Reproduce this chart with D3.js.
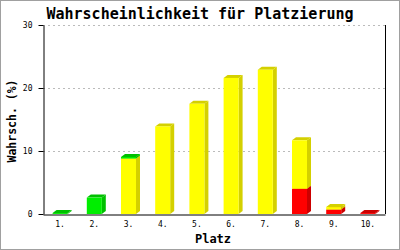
<!DOCTYPE html>
<html>
<head>
<meta charset="utf-8">
<script src="https://cdn.jsdelivr.net/npm/d3@7"></script>
<style>
  body { margin: 0; background: #fff; }
  text { font-family: "DejaVu Sans Mono", monospace; }
</style>
</head>
<body>
<div id="chart"></div>
<script>
// chart data
const PLACES = ["1.", "2.", "3.", "4.", "5.", "6.", "7.", "8.", "9.", "10."];
const RED = [0, 0, 0, 0, 0, 0, 0, 4.0, 0.7, 0.15];
const YELLOW = [0, 0, 8.8, 13.9, 17.5, 21.6, 22.9, 7.7, 0.4, 0];
const GREEN = [0.15, 2.6, 0.25, 0, 0, 0, 0, 0, 0, 0];
const Y_TICKS = [0, 10, 20, 30];

const WIDTH = 400;
const HEIGHT = 250;
const MARGINS = {left: 43, right: 15, top: 25, bottom: 36};

const svg = d3.select("#chart")
  .append("svg")
    .attr("width", WIDTH)
    .attr("height", HEIGHT);

// outer frame
svg.append("rect")
    .attr("x", 0.5).attr("y", 0.5)
    .attr("width", WIDTH - 1).attr("height", HEIGHT - 1)
    .attr("fill", "#fff")
    .attr("stroke", "#a0a0a0");

const x = d3.scaleBand()
  .domain(PLACES)
  .range([MARGINS.left, WIDTH - MARGINS.right]);

const y = d3.scaleLinear()
  .domain([0, 30])
  .range([HEIGHT - MARGINS.bottom, MARGINS.top]);

// grid lines
svg.append("g")
  .selectAll("line")
  .data(Y_TICKS.slice(1))
  .enter()
  .append("line")
    .attr("x1", MARGINS.left)
    .attr("x2", WIDTH - MARGINS.right)
    .attr("y1", (d) => y(d) + 0.5)
    .attr("y2", (d) => y(d) + 0.5)
    .attr("stroke", "#bbb")
    .attr("stroke-dasharray", "2,3");

// stacked series, bottom to top
const series = [
  {values: RED, front: "#ff0000", side: "#cc0000"},
  {values: YELLOW, front: "#ffff00", side: "#d4d000"},
  {values: GREEN, front: "#00ee00", side: "#00c000"}
];

const barW = 15;
const dx = 4;
const dy = 3;

const bars = svg.append("g");
PLACES.forEach((p, i) => {
  let base = 0;
  series.forEach((s) => {
    const v = s.values[i];
    if (v <= 0) return;
    const x0 = x(p) + (x.bandwidth() - barW) / 2;
    const yTop = y(base + v);
    const yBot = y(base);
    const g = bars.append("g");
    // side face
    g.append("polygon")
        .attr("points", [
          [x0 + barW, yBot], [x0 + barW + dx, yBot - dy],
          [x0 + barW + dx, yTop - dy], [x0 + barW, yTop]
        ].join(" "))
        .attr("fill", s.side);
    // top face
    g.append("polygon")
        .attr("points", [
          [x0, yTop], [x0 + dx, yTop - dy],
          [x0 + barW + dx, yTop - dy], [x0 + barW, yTop]
        ].join(" "))
        .attr("fill", s.side);
    // front face
    g.append("rect")
        .attr("x", x0)
        .attr("y", yTop)
        .attr("width", barW)
        .attr("height", yBot - yTop)
        .attr("fill", s.front);
    base += v;
  });
});

// axes
const yAxis = svg.append("g")
    .attr("transform", `translate(${MARGINS.left + 0.5},0)`)
    .call(d3.axisLeft(y).tickValues(Y_TICKS).tickSize(5).tickSizeOuter(0));
yAxis.select(".domain").attr("stroke", "#000");
yAxis.selectAll("text")
    .attr("font-size", 8)
    .attr("font-family", "DejaVu Sans Mono")
    .attr("x", -11);

const xAxis = svg.append("g")
    .attr("transform", `translate(0,${HEIGHT - MARGINS.bottom + 0.5})`)
    .call(d3.axisBottom(x).tickSize(0).tickSizeOuter(0));
xAxis.select(".domain").attr("stroke", "#000");
xAxis.selectAll("text")
    .attr("font-size", 8)
    .attr("font-family", "DejaVu Sans Mono")
    .attr("dy", "1.2em");

// right border of plot
svg.append("line")
    .attr("x1", WIDTH - MARGINS.right + 0.5)
    .attr("x2", WIDTH - MARGINS.right + 0.5)
    .attr("y1", MARGINS.top)
    .attr("y2", HEIGHT - MARGINS.bottom)
    .attr("stroke", "#000");

// title and axis labels
svg.append("text")
    .attr("x", 200)
    .attr("y", 19)
    .attr("text-anchor", "middle")
    .attr("font-size", 15)
    .attr("font-weight", "bold")
    .text("Wahrscheinlichkeit für Platzierung");

svg.append("text")
    .attr("x", 213)
    .attr("y", 243)
    .attr("text-anchor", "middle")
    .attr("font-size", 12)
    .attr("font-weight", "bold")
    .text("Platz");

svg.append("text")
    .attr("transform", "translate(16,121) rotate(-90)")
    .attr("text-anchor", "middle")
    .attr("font-size", 11.5)
    .attr("font-weight", "bold")
    .text("Wahrsch. (%)");
</script>
</body>
</html>
